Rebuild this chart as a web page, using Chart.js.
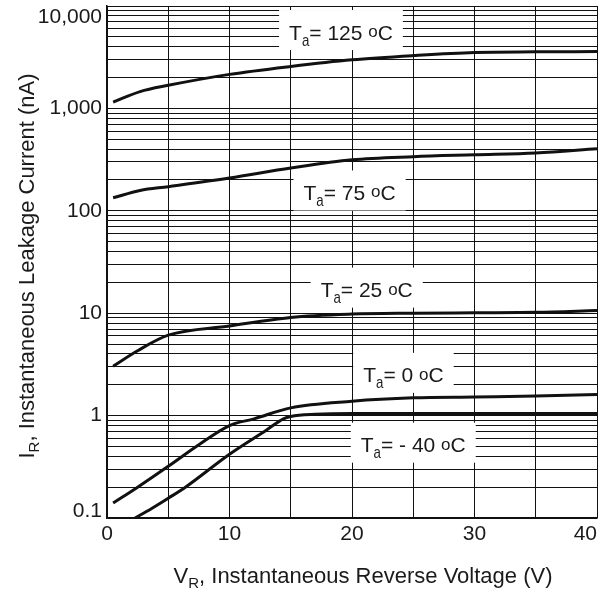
<!DOCTYPE html>
<html lang="en">
<head>
    <meta charset="UTF-8">
    <title>Instantaneous Leakage Current vs Reverse Voltage</title>
    <script src="https://cdn.jsdelivr.net/npm/chart.js"></script>
    <style>
        body { margin: 0; background: #fff; }
    </style>
</head>
<body>
    <canvas id="myChart" width="611" height="593"></canvas>

    <script>
        // leakage current (nA) against reverse voltage (V), one pair of arrays per temperature
        let x125 = [0.5, 2.7, 5, 10, 15, 20, 25, 30, 35, 40];
        let y125 = [1150, 1460, 1680, 2150, 2570, 2980, 3280, 3520, 3570, 3590];
        let x75 = [0.5, 2.7, 5, 10, 15, 20, 25, 30, 35, 40];
        let y75 = [134, 158, 172, 209, 262, 315, 338, 352, 366, 403];
        let x25 = [0.5, 2.5, 5, 10, 15, 20, 25, 30, 35, 40];
        let y25 = [3.04, 4.3, 6.1, 7.5, 9.1, 9.8, 10, 10.1, 10.2, 10.6];
        let x0 = [0.5, 2.5, 5, 7.5, 10, 12, 15, 20, 25, 30, 35, 40];
        let y0 = [0.14, 0.2, 0.32, 0.52, 0.8, 0.93, 1.19, 1.38, 1.49, 1.52, 1.55, 1.61];
        let xm40 = [2.1, 3.65, 5, 6.4, 10, 13, 14.4, 15, 17, 20, 25, 30, 35, 40];
        let ym40 = [0.097, 0.124, 0.156, 0.2, 0.42, 0.72, 0.93, 0.98, 1.03, 1.05, 1.05, 1.05, 1.05, 1.05];

        // temperature of each curve (Ta, degrees C)
        let temps = ['125', '75', '25', '0', '- 40'];

        // axis ticks
        let yDecades = [0.1, 1, 10, 100, 1000, 10000];
        let yTickLabels = ['0.1', '1', '10', '100', '1,000', '10,000'];
        let xTickValues = [0, 10, 20, 30, 40];
        let xTickLabels = ['0', '10', '20', '30', '40'];

        const FONT = '"Liberation Sans", Arial, Helvetica, sans-serif';
        const INK = '#1a1a1a';
        const GRID = '#111';

        function toPoints(xs, ys) {
            return xs.map((x, i) => ({ x: x, y: ys[i] }));
        }

        // text pieces with sub/superscripts: {t, s: size, dy: baseline shift, sx: horizontal squeeze}
        function richWidth(ctx, parts) {
            let w = 0;
            parts.forEach(p => {
                ctx.font = p.s + 'px ' + FONT;
                w += ctx.measureText(p.t).width * (p.sx || 1);
            });
            return w;
        }

        function drawRich(ctx, parts, cx, cy, rot) {
            ctx.save();
            ctx.translate(cx, cy);
            if (rot) ctx.rotate(rot);
            let w = richWidth(ctx, parts);
            let x = -w / 2;
            let base = parts[0].s * 0.358;
            ctx.fillStyle = INK;
            ctx.textAlign = 'left';
            ctx.textBaseline = 'alphabetic';
            parts.forEach(p => {
                let sx = p.sx || 1;
                ctx.font = p.s + 'px ' + FONT;
                ctx.save();
                ctx.translate(x, base + (p.dy || 0));
                ctx.scale(sx, 1);
                ctx.fillText(p.t, 0, 0);
                ctx.restore();
                x += ctx.measureText(p.t).width * sx;
            });
            ctx.restore();
        }

        function tempParts(t) {
            return [
                { t: 'T', s: 21 },
                { t: 'a', s: 17, dy: 6, sx: 0.78 },
                { t: '= ' + t + ' ', s: 21 },
                { t: 'o', s: 17, dy: -2.5 },
                { t: 'C', s: 21 }
            ];
        }

        // white boxed temperature labels, they hide the grid behind them
        const boxLabels = {
            id: 'boxLabels',
            beforeDatasetsDraw(chart, args, opts) {
                const ctx = chart.ctx;
                const xs = chart.scales.x, ys = chart.scales.y;
                opts.items.forEach((it, i) => {
                    const parts = tempParts(temps[i]);
                    const cx = xs.getPixelForValue(it.x);
                    const cy = ys.getPixelForValue(it.y);
                    const w = richWidth(ctx, parts);
                    ctx.save();
                    ctx.fillStyle = '#fff';
                    ctx.fillRect(cx - w / 2 - 10, cy - 22, w + 20, 40);
                    ctx.restore();
                    drawRich(ctx, parts, cx, cy);
                });
            }
        };

        // axis titles with the R subscript
        const axisTitles = {
            id: 'axisTitles',
            afterDraw(chart) {
                const ctx = chart.ctx;
                const a = chart.chartArea;
                drawRich(ctx, [
                    { t: 'I', s: 22 },
                    { t: 'R', s: 15, dy: 5 },
                    { t: ', Instantaneous Leakage Current (nA)', s: 22 }
                ], 26, (a.top + a.bottom) / 2 + 4, -Math.PI / 2);
                drawRich(ctx, [
                    { t: 'V', s: 22 },
                    { t: 'R', s: 15, dy: 5 },
                    { t: ', Instantaneous Reverse Voltage (V)', s: 22 }
                ], (a.left + a.right) / 2 + 11, a.bottom + 57);
            }
        };

        const curveStyle = {
            borderColor: '#111',
            borderWidth: 3,
            pointRadius: 0,
            fill: false,
            cubicInterpolationMode: 'monotone'
        };

        let ctx = document.getElementById('myChart').getContext('2d');
        let myChart = new Chart(ctx, {
            type: 'line',
            data: {
                datasets: [
                    Object.assign({ label: 'Ta = 125', data: toPoints(x125, y125) }, curveStyle),
                    Object.assign({ label: 'Ta = 75', data: toPoints(x75, y75) }, curveStyle),
                    Object.assign({ label: 'Ta = 25', data: toPoints(x25, y25) }, curveStyle),
                    Object.assign({ label: 'Ta = 0', data: toPoints(x0, y0) }, curveStyle),
                    Object.assign({ label: 'Ta = -40', data: toPoints(xm40, ym40) }, curveStyle)
                ]
            },
            options: {
                responsive: false,
                animation: false,
                layout: { padding: { top: 6, right: 14, bottom: 0, left: 0 } },
                plugins: {
                    legend: { display: false },
                    tooltip: { enabled: false },
                    boxLabels: {
                        items: [
                            { x: 19.1, y: 5570 },
                            { x: 19.8, y: 151 },
                            { x: 21.2, y: 17 },
                            { x: 24.2, y: 2.5 },
                            { x: 25.0, y: 0.52 }
                        ]
                    }
                },
                scales: {
                    x: {
                        type: 'linear',
                        min: 0,
                        max: 40,
                        grid: { color: GRID, lineWidth: 1, drawTicks: false },
                        border: { color: GRID, width: 1.5 },
                        ticks: {
                            stepSize: 5,
                            autoSkip: false,
                            maxRotation: 0,
                            padding: 4,
                            color: INK,
                            font: { family: FONT, size: 21 },
                            callback: function (v) {
                                let i = xTickValues.indexOf(v);
                                if (i < 0) return '';
                                // last label is pulled back inside the frame
                                return i === xTickValues.length - 1 ? xTickLabels[i] + '    ' : xTickLabels[i];
                            }
                        },
                        afterFit: function (s) {
                            s.height = 75;
                            s.paddingLeft = 0;
                            s.paddingRight = 0;
                        }
                    },
                    y: {
                        type: 'logarithmic',
                        min: 0.1,
                        max: 10000,
                        grid: { color: GRID, lineWidth: 1, drawTicks: false },
                        border: { color: GRID, width: 1.5 },
                        afterBuildTicks: function (s) {
                            let t = [];
                            yDecades.forEach((d, i) => {
                                if (i < yDecades.length - 1) {
                                    for (let m = 1; m < 10; m++) t.push({ value: m * d });
                                } else {
                                    t.push({ value: d });
                                }
                            });
                            s.ticks = t;
                        },
                        ticks: {
                            autoSkip: false,
                            padding: 5,
                            color: INK,
                            font: function (c) {
                                let v = c.tick ? c.tick.value : 0;
                                let lh = 1.2;
                                if (v === 10000) lh = 1.05;
                                if (v === 0.1) lh = 0.6;
                                return { family: FONT, size: 21, lineHeight: lh };
                            },
                            callback: function (v) {
                                let i = yDecades.indexOf(v);
                                if (i < 0) return '';
                                // end labels are nudged inside the frame
                                if (i === yDecades.length - 1) return ['', yTickLabels[i]];
                                if (i === 0) return [yTickLabels[i], ''];
                                return yTickLabels[i];
                            }
                        },
                        afterFit: function (s) {
                            s.width = 107;
                            s.paddingTop = 0;
                            s.paddingBottom = 0;
                        }
                    }
                }
            },
            plugins: [boxLabels, axisTitles]
        });
    </script>
</body>
</html>
